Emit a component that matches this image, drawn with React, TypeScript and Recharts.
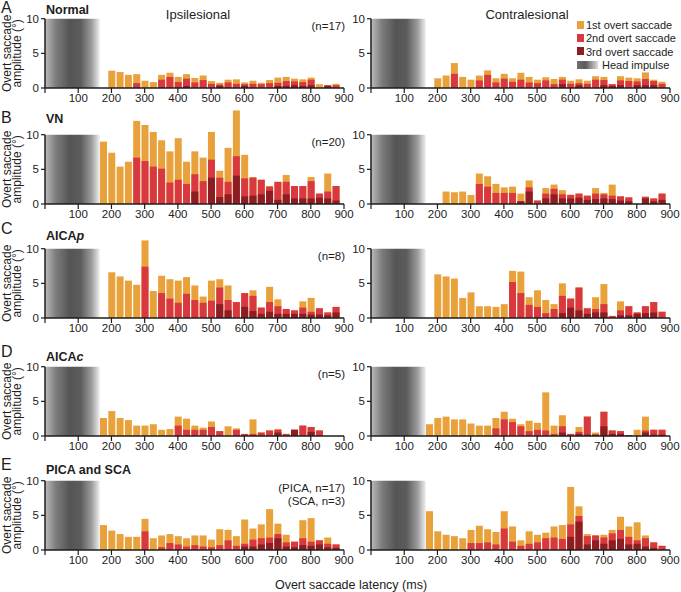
import { Bar, BarChart, ReferenceArea, ReferenceLine, XAxis, YAxis } from "recharts";

// Amplitud de sacadas ocultas (1ª, 2ª, 3ª) por latencia, barras superpuestas
// desde cero. Bins de 25 ms; el rectángulo gris marca el impulso cefálico.

const latency = [175, 200, 225, 250, 275, 300, 325, 350, 375, 400, 425, 450, 475, 500, 525, 550, 575, 600, 625, 650, 675, 700, 725, 750, 775, 800, 825, 850, 875];
const xTicks = [0, 100, 200, 300, 400, 500, 600, 700, 800, 900];
const yTicks = [0, 5, 10];

const normalIpsi1 = [0, 2.5, 2.3, 1.9, 2.0, 1.05, 0.85, 1.9, 2.2, 1.6, 2.0, 1.45, 1.8, 1.0, 0.75, 1.2, 1.25, 0.8, 1.05, 0.75, 1.15, 1.5, 1.6, 1.35, 1.25, 1.5, 0.55, 0.4, 0.6];
const normalIpsi2 = [0, 0, 0, 0, 0.7, 0, 0, 1.2, 1.6, 0.85, 1.35, 0.8, 1.15, 0.6, 0.5, 0.8, 0.6, 0.55, 0.6, 0.55, 0.7, 0.75, 1.0, 0.95, 0.85, 1.2, 0, 0.4, 0.4];
const normalIpsi3 = [0, 0, 0, 0, 0, 0, 0, 0, 0, 0, 0.3, 0, 0, 0, 0.3, 0, 0, 0.3, 0, 0, 0, 0.3, 0.3, 0.4, 0.3, 0.4, 0, 0.3, 0];
const normalContra1 = [0, 1.4, 1.8, 3.6, 1.6, 1.2, 1.8, 2.55, 1.4, 2.05, 1.4, 2.2, 1.6, 1.2, 1.55, 1.3, 1.6, 1.05, 1.25, 1.05, 1.7, 1.6, 0.55, 1.7, 1.5, 1.4, 2.25, 1.2, 0.9];
const normalContra2 = [0, 0, 0, 2.05, 0, 0, 1.1, 1.9, 0.8, 1.35, 0.9, 1.2, 0.8, 0.7, 1.1, 0.55, 1.2, 0.6, 0.7, 0.6, 1.2, 1.15, 0.55, 1.1, 1.0, 0.95, 1.3, 1.0, 0.6];
const normalContra3 = [0, 0, 0, 0, 0, 0, 0, 0, 0, 0, 0, 0, 0, 0, 0, 0, 0.55, 0, 0.4, 0, 0, 0.4, 0.3, 0.4, 0, 0.4, 0.4, 0.4, 0];

const vnIpsi1 = [9.0, 7.4, 5.4, 6.1, 12.0, 11.4, 10.4, 9.2, 7.6, 9.5, 6.1, 7.6, 6.7, 10.4, 4.8, 8.1, 13.5, 7.1, 3.9, 3.5, 2.6, 3.2, 4.2, 2.6, 2.6, 3.9, 1.5, 4.4, 2.6];
const vnIpsi2 = [0, 0, 0, 0, 6.7, 6.2, 5.4, 5.1, 3.1, 3.5, 2.9, 4.3, 3.3, 6.4, 3.8, 3.2, 6.9, 3.7, 3.8, 3.5, 2.5, 3.2, 3.2, 2.6, 2.6, 3.3, 1.5, 1.8, 2.6];
const vnIpsi3 = [0, 0, 0, 0, 0, 0, 0, 0, 0, 0, 0, 1.8, 0, 3.8, 1.0, 1.4, 4.1, 1.1, 1.2, 1.4, 1.9, 0.6, 1.4, 0.8, 0.8, 0.8, 0.9, 0.8, 0.5];
const vnContra1 = [0, 0, 1.8, 1.7, 1.8, 1.3, 4.4, 4.0, 2.9, 2.4, 2.5, 1.5, 3.4, 0.5, 2.3, 2.8, 2.0, 1.35, 1.5, 1.2, 2.3, 1.6, 2.8, 1.1, 0.95, 0, 1.1, 0.8, 1.5];
const vnContra2 = [0, 0, 0, 0, 0, 0, 2.9, 2.5, 1.6, 1.6, 1.6, 0.4, 2.4, 0.5, 1.5, 2.2, 1.4, 1.3, 1.5, 1.2, 1.5, 1.4, 1.2, 1.1, 0.95, 0, 1.0, 0.8, 1.5];
const vnContra3 = [0, 0, 0, 0, 0, 0, 0, 0, 0, 0, 0, 0.4, 1.8, 0, 0.8, 1.4, 0.8, 0.8, 0.9, 0.6, 0.7, 0.8, 0.7, 0.5, 0.4, 0, 0.8, 0.4, 0.6];

const aicapIpsi1 = [0, 6.6, 6.0, 5.4, 4.8, 11.2, 3.9, 6.1, 5.6, 5.4, 5.9, 4.7, 3.1, 5.4, 5.6, 4.7, 2.3, 3.6, 4.0, 1.5, 4.5, 2.7, 1.3, 1.1, 2.4, 2.9, 1.4, 0.8, 1.6];
const aicapIpsi2 = [0, 0, 0, 0, 0, 7.4, 0, 3.6, 2.8, 2.2, 3.5, 2.6, 2.2, 2.5, 4.4, 2.6, 2.3, 3.6, 3.2, 1.5, 2.3, 1.7, 1.3, 1.1, 1.5, 0.9, 1.4, 0.8, 1.6];
const aicapIpsi3 = [0, 0, 0, 0, 0, 0, 0, 0, 0, 0, 0, 0, 0, 0, 2.0, 1.1, 0, 1.6, 1.0, 0.6, 0.9, 0.6, 0.6, 0.6, 0.6, 0.5, 0.5, 0.4, 0.8];
const aicapContra1 = [0, 6.3, 6.0, 5.7, 2.9, 3.7, 1.7, 1.7, 1.6, 2.0, 6.8, 6.7, 3.0, 4.0, 2.6, 2.0, 5.0, 2.8, 4.4, 1.4, 3.0, 4.9, 0.3, 2.4, 1.7, 0.8, 1.7, 2.3, 0.9];
const aicapContra2 = [0, 0, 0, 0, 0, 0, 0, 0, 0, 0, 5.2, 3.6, 1.9, 1.6, 0.7, 1.3, 3.2, 2.8, 4.4, 1.4, 1.3, 2.0, 0.3, 1.1, 1.7, 0.8, 1.7, 2.3, 0.9];
const aicapContra3 = [0, 0, 0, 0, 0, 0, 0, 0, 0, 0, 0, 0, 0, 0, 0, 0, 0.7, 1.5, 1.1, 0.6, 0.8, 0.8, 0, 0.4, 0.4, 0.6, 0.7, 0.8, 0];

const aicacIpsi1 = [2.6, 3.6, 2.6, 2.3, 1.5, 1.5, 1.7, 0.9, 1.0, 2.8, 2.5, 1.5, 1.2, 2.1, 0.7, 1.4, 1.1, 0.3, 2.4, 0.5, 0.8, 1.0, 0.3, 0.9, 1.5, 1.3, 0.8, 0, 0];
const aicacIpsi2 = [0, 0, 0, 0, 0, 0, 0, 0, 0, 1.5, 0.9, 0.9, 0.9, 1.3, 0.7, 0, 0.9, 0.3, 0.3, 0.5, 0.8, 0.9, 0.3, 0.9, 1.5, 1.3, 0.8, 0, 0];
const aicacIpsi3 = [0, 0, 0, 0, 0, 0, 0, 0, 0, 0, 0, 0, 0, 0, 0, 0, 0, 0, 0, 0, 0, 0.5, 0, 0.9, 0, 0.6, 0, 0, 0];
const aicacContra1 = [1.7, 2.6, 2.8, 2.4, 2.4, 1.8, 1.5, 1.5, 2.6, 3.5, 2.5, 1.7, 2.2, 1.9, 6.3, 1.5, 3.0, 0.3, 1.3, 2.8, 0.5, 3.5, 0.8, 0.7, 0.1, 0.9, 2.8, 0.9, 0.9];
const aicacContra2 = [0, 0, 0, 0, 0, 0, 0, 0, 1.1, 2.4, 2.0, 1.4, 0.7, 0.9, 0.8, 0.3, 1.4, 0.3, 0.6, 2.8, 0.2, 3.5, 0.8, 0.7, 0.1, 0, 0.8, 0.9, 0.9];
const aicacContra3 = [0, 0, 0, 0, 0, 0, 0, 0, 0, 0, 0, 0, 0, 0, 0, 0, 0.5, 0, 0.3, 0.2, 0.2, 1.4, 0.3, 0.3, 0.1, 0, 0.5, 0.2, 0.2];

const picaIpsi1 = [3.6, 2.8, 2.3, 1.9, 1.9, 4.5, 1.7, 2.1, 2.3, 2.0, 1.7, 2.1, 2.1, 1.5, 3.0, 2.9, 2.0, 4.4, 3.1, 3.7, 5.9, 3.8, 2.2, 1.2, 4.3, 4.6, 1.4, 1.8, 0.8];
const picaIpsi2 = [0, 0, 0, 0, 0, 2.7, 0, 0.4, 1.0, 0.8, 0.5, 0.7, 0.5, 0.4, 0.7, 1.4, 0.6, 0.9, 1.5, 1.7, 1.8, 2.3, 1.1, 1.2, 1.7, 1.2, 1.4, 0.9, 0.8];
const picaIpsi3 = [0, 0, 0, 0, 0, 0, 0, 0, 0, 0, 0, 0, 0, 0, 0, 0, 0, 0.5, 0.5, 0.8, 1.0, 1.7, 0.5, 0.4, 0.7, 0.6, 0.8, 0.4, 0.3];
const picaContra1 = [5.6, 2.7, 2.2, 2.0, 1.7, 2.9, 3.5, 3.0, 2.6, 5.6, 3.4, 1.4, 2.7, 2.2, 2.5, 3.4, 3.6, 9.1, 6.3, 2.3, 2.1, 2.2, 2.9, 4.8, 3.4, 4.0, 2.1, 1.1, 0.6];
const picaContra2 = [0, 0, 0, 0, 0, 1.0, 1.0, 1.1, 0.8, 3.1, 1.2, 0.6, 0.9, 1.1, 1.7, 1.8, 1.6, 3.7, 4.9, 2.0, 2.1, 1.8, 2.4, 2.9, 1.9, 1.4, 1.7, 1.1, 0.6];
const picaContra3 = [0, 0, 0, 0, 0, 0, 0, 0, 0, 0, 0, 0, 0, 0, 0, 0, 0, 1.9, 4.1, 0.8, 1.4, 0.9, 1.4, 1.6, 0.8, 0.9, 0.5, 0.3, 0];

const C1 = "#E9A23B";
const C2 = "#D9383F";
const C3 = "#8C1D22";
const INK = "#1d1d1d";

const AXIS_W = 28;
const PLOT_W = 299;
const PLOT_H = 97; // dominio 0..14
const X_AXIS_H = 22;
const RIGHT_PAD = 14;

const rows = [
  { letter: "A", name: ["Normal", ""], zeroY: 88, letterY: 13, nameY: 14, notes: ["(n=17)"], ipsi: [normalIpsi1, normalIpsi2, normalIpsi3], contra: [normalContra1, normalContra2, normalContra3] },
  { letter: "B", name: ["VN", ""], zeroY: 204, letterY: 123, nameY: 123, notes: ["(n=20)"], ipsi: [vnIpsi1, vnIpsi2, vnIpsi3], contra: [vnContra1, vnContra2, vnContra3] },
  { letter: "C", name: ["AICA", "p"], zeroY: 318, letterY: 234, nameY: 240, notes: ["(n=8)"], ipsi: [aicapIpsi1, aicapIpsi2, aicapIpsi3], contra: [aicapContra1, aicapContra2, aicapContra3] },
  { letter: "D", name: ["AICA", "c"], zeroY: 436, letterY: 357, nameY: 361, notes: ["(n=5)"], ipsi: [aicacIpsi1, aicacIpsi2, aicacIpsi3], contra: [aicacContra1, aicacContra2, aicacContra3] },
  { letter: "E", name: ["PICA and SCA", ""], zeroY: 550, letterY: 470, nameY: 474, notes: ["(PICA, n=17)", "(SCA, n=3)"], ipsi: [picaIpsi1, picaIpsi2, picaIpsi3], contra: [picaContra1, picaContra2, picaContra3] },
];

function Panel({ left, zeroY, series }: { left: number; zeroY: number; series: number[][] }) {
  const data = latency.map((t, i) => ({
    t,
    first: series[0][i] || null,
    second: series[1][i] || null,
    third: series[2][i] || null,
  }));
  return (
    <div style={{ position: "absolute", left: left - AXIS_W, top: zeroY - PLOT_H }}>
      <BarChart
        width={AXIS_W + PLOT_W + RIGHT_PAD}
        height={PLOT_H + X_AXIS_H}
        data={data}
        margin={{ top: 0, right: RIGHT_PAD, bottom: 0, left: 0 }}
      >
        <XAxis
          xAxisId="a"
          dataKey="t"
          type="number"
          domain={[0, 900]}
          ticks={xTicks}
          tickFormatter={(v: number) => (v === 0 ? "" : String(v))}
          interval={0}
          height={X_AXIS_H}
          tickSize={5}
          tickMargin={1}
          axisLine={{ stroke: INK, strokeWidth: 1.5 }}
          tickLine={{ stroke: INK, strokeWidth: 1.2 }}
          tick={{ fill: "#222", fontSize: 11.5 }}
        />
        <XAxis xAxisId="b" dataKey="t" type="number" domain={[0, 900]} hide />
        <XAxis xAxisId="c" dataKey="t" type="number" domain={[0, 900]} hide />
        <YAxis
          domain={[0, 14]}
          ticks={yTicks}
          interval={0}
          width={AXIS_W}
          axisLine={false}
          tickSize={4}
          tickMargin={2}
          tickLine={{ stroke: INK, strokeWidth: 1.2 }}
          tick={{ fill: "#222", fontSize: 11.5 }}
        />
        <ReferenceArea
          xAxisId="a"
          x1={0}
          x2={165}
          y1={0}
          y2={10}
          fill="url(#headImpulse)"
          fillOpacity={1}
          stroke="none"
        />
        <ReferenceLine
          xAxisId="a"
          segment={[{ x: 0, y: 0 }, { x: 0, y: 10 }]}
          stroke={INK}
          strokeWidth={1.5}
        />
        <Bar xAxisId="a" dataKey="first" fill={C1} barSize={7} isAnimationActive={false} />
        <Bar xAxisId="b" dataKey="second" fill={C2} barSize={7} isAnimationActive={false} />
        <Bar xAxisId="c" dataKey="third" fill={C3} barSize={7} isAnimationActive={false} />
      </BarChart>
    </div>
  );
}

export default function App() {
  return (
    <div
      style={{
        position: "absolute",
        left: 0,
        top: 0,
        width: 681,
        height: 592,
        overflow: "hidden",
        background: "#fff",
        fontFamily: "'Liberation Sans', Arial, sans-serif",
        color: INK,
      }}
    >
      <svg width={0} height={0} style={{ position: "absolute" }}>
        <defs>
          <linearGradient id="headImpulse" x1="0" y1="0" x2="1" y2="0">
            <stop offset="0" stopColor="#bcbcbc" />
            <stop offset="0.2" stopColor="#7c7c7c" />
            <stop offset="0.45" stopColor="#555555" />
            <stop offset="0.65" stopColor="#5c5c5c" />
            <stop offset="0.85" stopColor="#9c9c9c" />
            <stop offset="1" stopColor="#f0f0f0" />
          </linearGradient>
          <linearGradient id="headImpulseKey" x1="0" y1="0" x2="1" y2="0">
            <stop offset="0" stopColor="#707070" />
            <stop offset="0.4" stopColor="#5a5a5a" />
            <stop offset="1" stopColor="#dcdcdc" />
          </linearGradient>
        </defs>
      </svg>

      {rows.map((r) => (
        <div key={r.letter}>
          <Panel left={45} zeroY={r.zeroY} series={r.ipsi} />
          <Panel left={371} zeroY={r.zeroY} series={r.contra} />
        </div>
      ))}

      <svg
        width={681}
        height={592}
        style={{ position: "absolute", left: 0, top: 0, pointerEvents: "none" }}
      >
        <text x={198} y={19} fontSize={13} textAnchor="middle" fill={INK}>Ipsilesional</text>
        <text x={527} y={19} fontSize={13} textAnchor="middle" fill={INK}>Contralesional</text>

        {rows.map((r) => {
          const mid = r.zeroY - 5 * 6.93;
          return (
            <g key={r.letter}>
              <text x={1} y={r.letterY} fontSize={16} fill={INK}>{r.letter}</text>
              <text x={46} y={r.nameY} fontSize={12.5} fontWeight="bold" fill={INK}>
                {r.name[0]}
                {r.name[1] ? <tspan fontStyle="italic">{r.name[1]}</tspan> : null}
              </text>
              {r.notes.map((n, i) => (
                <text key={n} x={345} y={r.zeroY - 58 + i * 13} fontSize={11.5} textAnchor="end" fill={INK}>{n}</text>
              ))}
              <text transform={`translate(10.5,${mid}) rotate(-90)`} fontSize={12} textAnchor="middle" fill={INK}>Overt saccade</text>
              <text transform={`translate(21,${mid}) rotate(-90)`} fontSize={12} textAnchor="middle" fill={INK}>amplitude (°)</text>
            </g>
          );
        })}

        <rect x={577} y={21} width={7} height={8} fill={C1} />
        <text x={586} y={29} fontSize={11} fill={INK}>1st overt saccade</text>
        <rect x={577} y={34} width={7} height={8} fill={C2} />
        <text x={586} y={42} fontSize={11} fill={INK}>2nd overt saccade</text>
        <rect x={577} y={47} width={7} height={8} fill={C3} />
        <text x={586} y={55.5} fontSize={11} fill={INK}>3rd overt saccade</text>
        <rect x={577} y={61} width={21} height={8} fill="url(#headImpulseKey)" />
        <text x={602} y={69} fontSize={11} fill={INK}>Head impulse</text>

        <text x={351} y={589} fontSize={12.5} textAnchor="middle" fill={INK}>Overt saccade latency (ms)</text>
      </svg>
    </div>
  );
}
